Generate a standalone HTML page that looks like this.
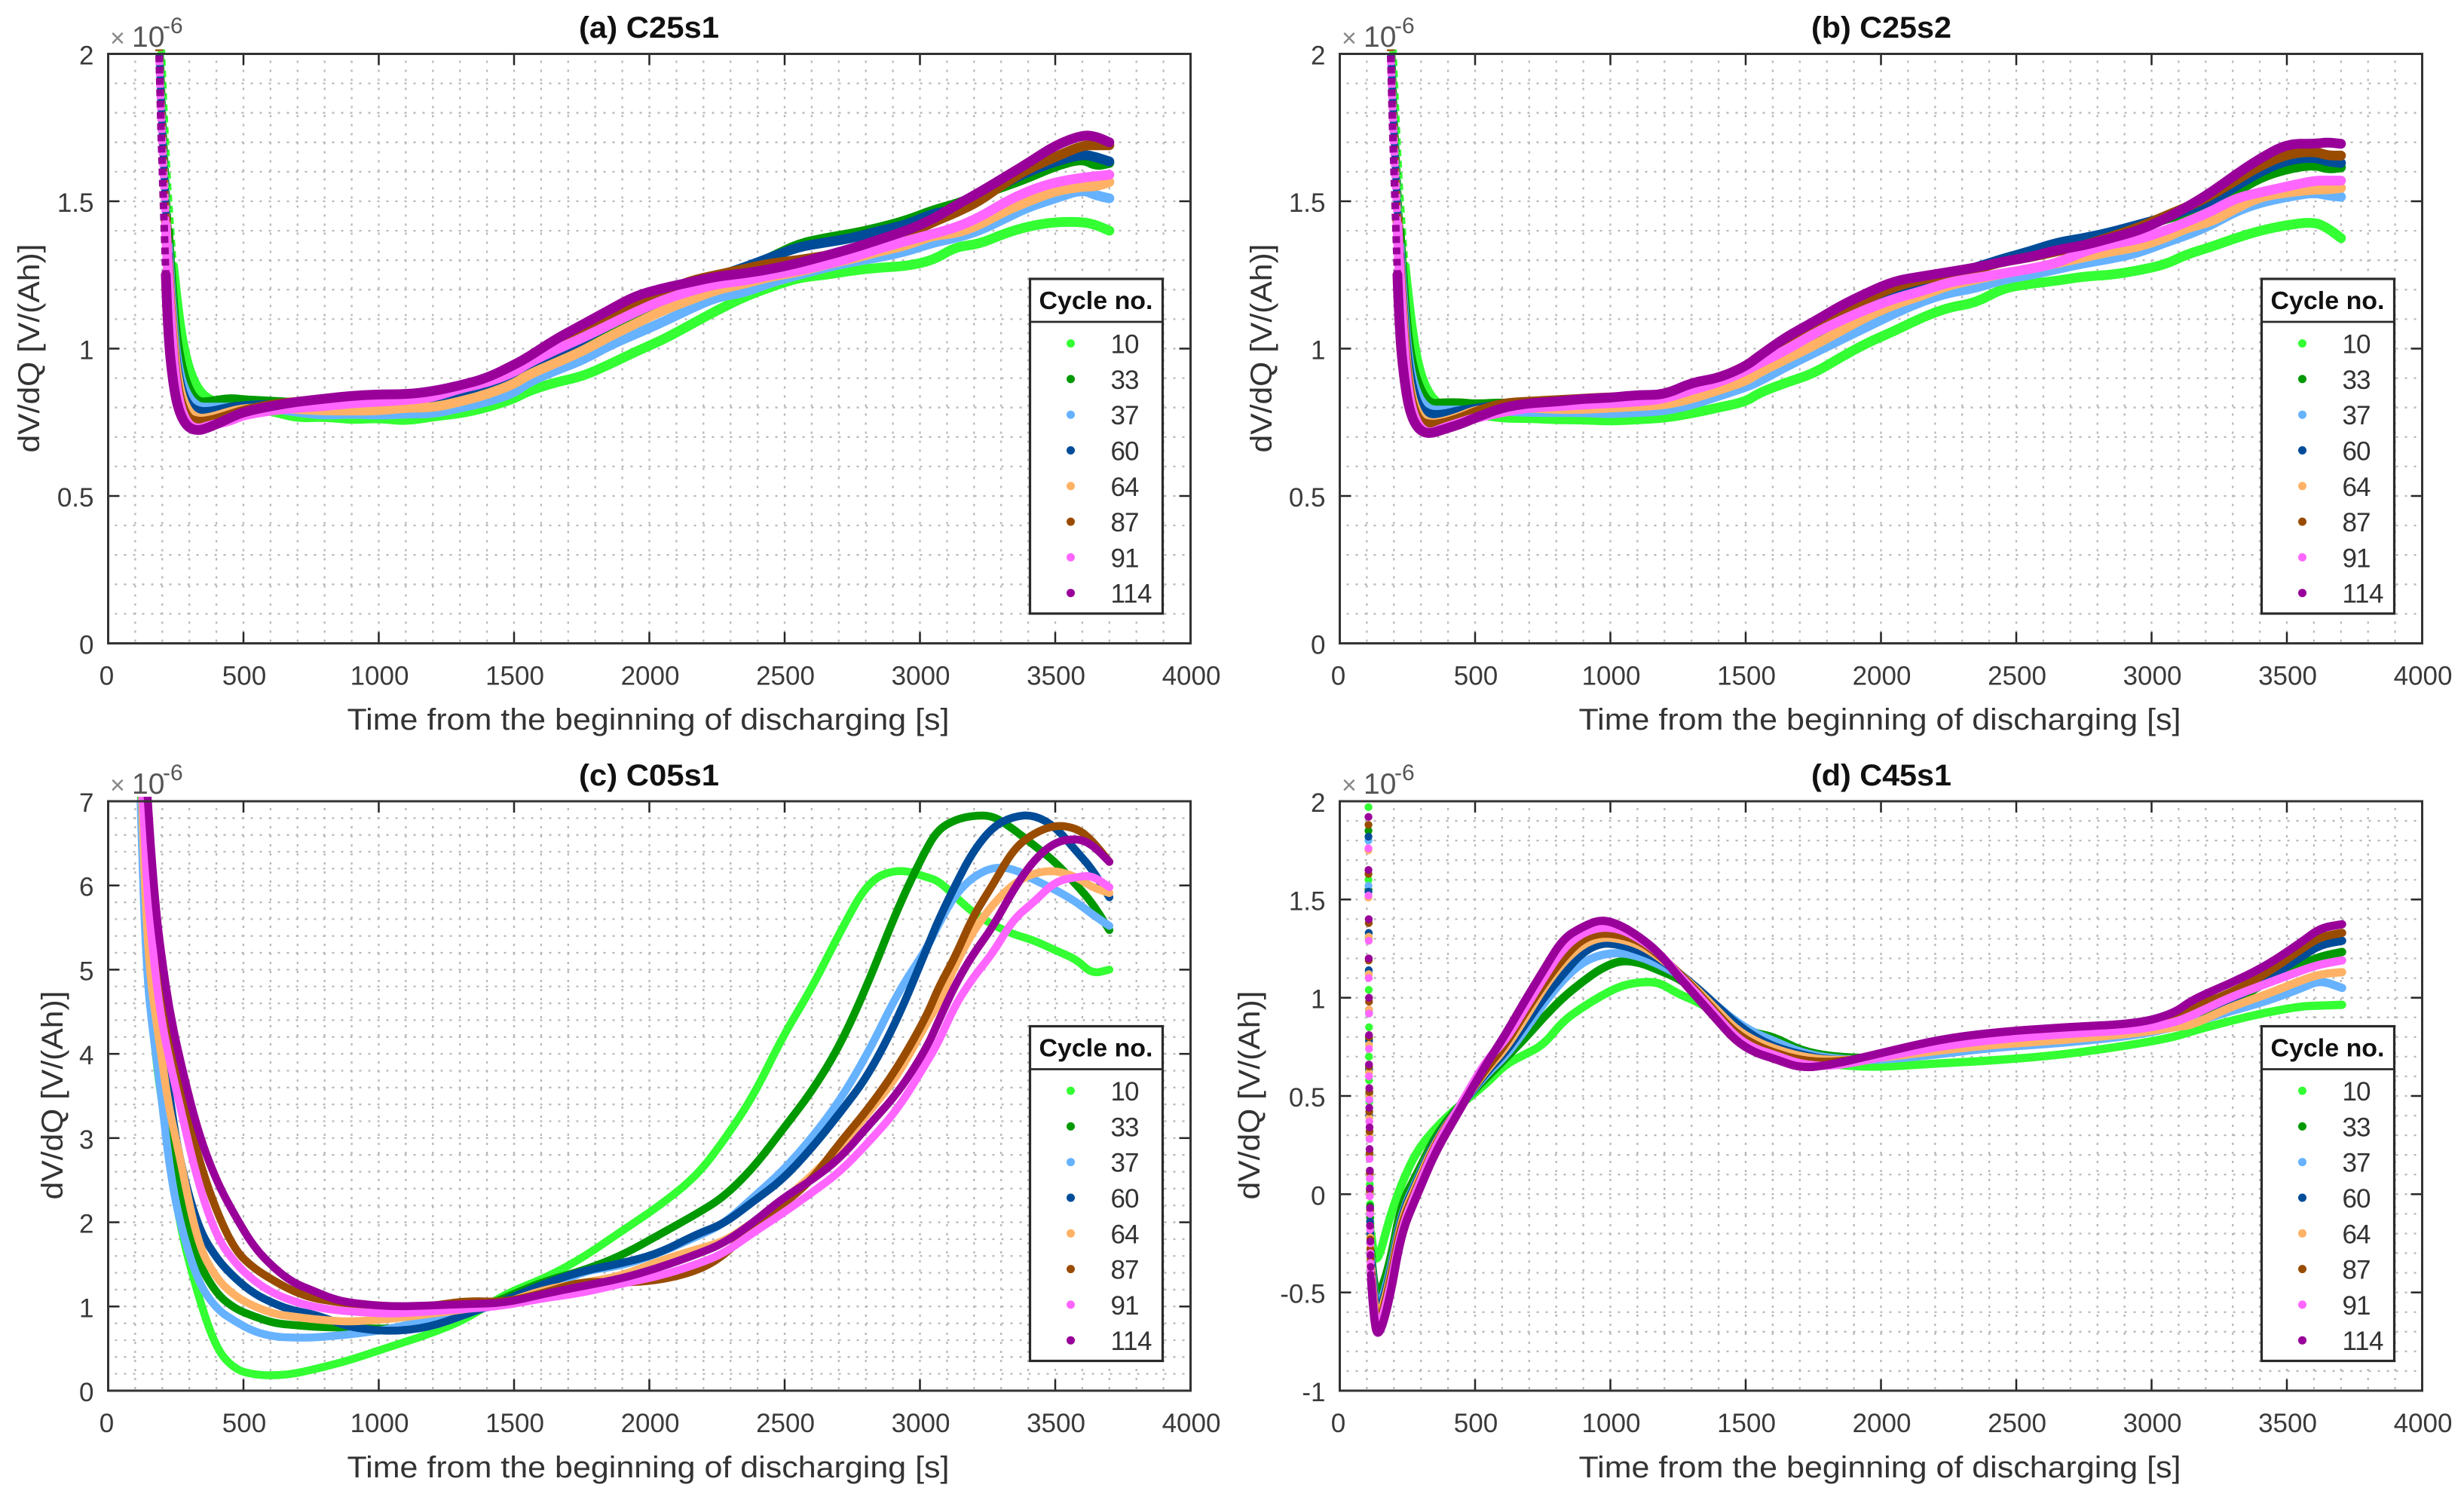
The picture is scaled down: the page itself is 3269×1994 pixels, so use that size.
<!DOCTYPE html>
<html lang="en">
<head>
<meta charset="utf-8">
<title>dV/dQ versus discharging time</title>
<style>
html,body{margin:0;padding:0;background:#fff;width:3269px;height:1994px;overflow:hidden}
svg{display:block}
text{font-family:"Liberation Sans",sans-serif}
.tick{font-size:35px;fill:#3a3a3a}
.ttl{font-size:40px;font-weight:bold;fill:#111;text-anchor:middle}
.lab{font-size:40px;fill:#333;text-anchor:middle}
.e1{font-size:34px;fill:#888}
.e2{font-size:39px;fill:#555}
.e3{font-size:30px;fill:#555}
</style>
</head>
<body>
<svg id="figure" xmlns="http://www.w3.org/2000/svg" width="3269" height="1994" viewBox="0 0 3269 1994">
  <rect x="0" y="0" width="3269" height="1994" fill="#fff"/>

  <g id="panel-a"></g>
  <g id="panel-b"></g>
  <g id="panel-c"></g>
  <g id="panel-d"></g>

  <text class="ttl" x="861" y="50" textLength="186" lengthAdjust="spacingAndGlyphs">(a) C25s1</text>
  <text class="ttl" x="2496" y="50" textLength="186" lengthAdjust="spacingAndGlyphs">(b) C25s2</text>
  <text class="ttl" x="861" y="1042" textLength="186" lengthAdjust="spacingAndGlyphs">(c) C05s1</text>
  <text class="ttl" x="2496" y="1042" textLength="186" lengthAdjust="spacingAndGlyphs">(d) C45s1</text>

  <text class="lab" x="860" y="968" textLength="799" lengthAdjust="spacingAndGlyphs">Time from the beginning of discharging [s]</text>
  <text class="lab" x="2494" y="968" textLength="799" lengthAdjust="spacingAndGlyphs">Time from the beginning of discharging [s]</text>
  <text class="lab" x="860" y="1960" textLength="799" lengthAdjust="spacingAndGlyphs">Time from the beginning of discharging [s]</text>
  <text class="lab" x="2494" y="1960" textLength="799" lengthAdjust="spacingAndGlyphs">Time from the beginning of discharging [s]</text>

  <text class="lab" transform="translate(52 462) rotate(-90)" textLength="277" lengthAdjust="spacingAndGlyphs">dV/dQ [V/(Ah)]</text>
  <text class="lab" transform="translate(1687 462) rotate(-90)" textLength="277" lengthAdjust="spacingAndGlyphs">dV/dQ [V/(Ah)]</text>
  <text class="lab" transform="translate(83 1453) rotate(-90)" textLength="277" lengthAdjust="spacingAndGlyphs">dV/dQ [V/(Ah)]</text>
  <text class="lab" transform="translate(1671 1453) rotate(-90)" textLength="277" lengthAdjust="spacingAndGlyphs">dV/dQ [V/(Ah)]</text>

  <g><text class="e1" x="146" y="62">×</text><text class="e2" x="175" y="62">10</text><text class="e3" x="216" y="44">-6</text></g>
  <g><text class="e1" x="1780" y="62">×</text><text class="e2" x="1809" y="62">10</text><text class="e3" x="1850" y="44">-6</text></g>
  <g><text class="e1" x="146" y="1053">×</text><text class="e2" x="175" y="1053">10</text><text class="e3" x="216" y="1035">-6</text></g>
  <g><text class="e1" x="1780" y="1053">×</text><text class="e2" x="1809" y="1053">10</text><text class="e3" x="1850" y="1035">-6</text></g>
</svg>

<script>
// ---------- shared categories ----------
const cycleLabels = ["10","33","37","60","64","87","91","114"];
const cycleColors = ["#33ff33","#009900","#66b2ff","#004c99","#ffb266","#994c00","#ff66ff","#990099"];
const xTickValues = [0,500,1000,1500,2000,2500,3000,3500,4000];
const yTicksAB = [0,0.5,1,1.5,2];
const yTickLabelsAB = ["0","0.5","1","1.5","2"];
const yTicksC = [0,1,2,3,4,5,6,7];
const yTickLabelsC = ["0","1","2","3","4","5","6","7"];
const yTicksD = [-1,-0.5,0,0.5,1,1.5,2];
const yTickLabelsD = ["-1","-0.5","0","0.5","1","1.5","2"];

// ---------- panels (a) and (b): time grid in seconds ----------
const timeAB = [188,195,204,213,221,240,260,290,330,380,450,500,600,700,800,900,1000,1100,1200,1300,1400,1500,1550,1650,1750,1850,1950,2050,2150,2250,2350,2450,2550,2650,2750,2850,2950,3050,3130,3220,3310,3400,3500,3600,3650,3700];

const a10 = [2.25,2.05,1.85,1.67,1.53,1.28,1.1,.95,.86,.82,.815,.80,.79,.765,.77,.76,.765,.755,.77,.78,.80,.83,.855,.885,.905,.945,.99,1.03,1.08,1.13,1.175,1.21,1.24,1.25,1.265,1.275,1.28,1.30,1.345,1.355,1.39,1.415,1.43,1.43,1.42,1.40];
const a33 = [2.1,1.92,1.72,1.55,1.40,1.13,.98,.87,.815,.82,.83,.825,.82,.815,.80,.795,.79,.80,.805,.83,.85,.875,.90,.95,1.0,1.06,1.11,1.155,1.2,1.24,1.27,1.31,1.355,1.375,1.39,1.41,1.435,1.47,1.49,1.52,1.55,1.58,1.62,1.645,1.62,1.63];
const a37 = [2.05,1.87,1.67,1.5,1.35,1.07,.92,.84,.80,.80,.80,.80,.80,.785,.775,.78,.775,.78,.78,.80,.82,.85,.885,.925,.96,1.01,1.05,1.09,1.135,1.175,1.19,1.225,1.25,1.275,1.295,1.31,1.33,1.36,1.375,1.40,1.44,1.48,1.51,1.54,1.52,1.51];
const a60 = [2.05,1.86,1.66,1.48,1.32,1.04,.89,.81,.785,.785,.80,.805,.81,.81,.81,.805,.80,.81,.825,.845,.865,.895,.925,.97,1.03,1.08,1.13,1.165,1.20,1.245,1.275,1.31,1.345,1.36,1.375,1.40,1.42,1.46,1.47,1.51,1.56,1.60,1.635,1.66,1.65,1.635];
const a64 = [2.03,1.84,1.64,1.46,1.30,1.02,.87,.79,.76,.765,.785,.795,.80,.795,.79,.79,.79,.80,.80,.82,.845,.88,.91,.95,.99,1.04,1.085,1.13,1.165,1.20,1.22,1.245,1.26,1.285,1.305,1.33,1.35,1.385,1.39,1.42,1.465,1.50,1.535,1.55,1.55,1.565];
const a87 = [2.02,1.82,1.62,1.44,1.27,.98,.84,.765,.75,.755,.775,.79,.81,.82,.825,.825,.83,.84,.85,.865,.895,.93,.96,1.02,1.065,1.11,1.15,1.19,1.23,1.25,1.27,1.29,1.30,1.315,1.33,1.355,1.385,1.43,1.46,1.50,1.56,1.61,1.65,1.69,1.69,1.69];
const a91 = [2.0,1.80,1.60,1.42,1.25,.96,.82,.745,.725,.74,.755,.775,.79,.80,.805,.815,.82,.825,.835,.865,.885,.92,.95,.995,1.035,1.08,1.125,1.165,1.195,1.22,1.23,1.25,1.265,1.285,1.31,1.34,1.365,1.39,1.41,1.445,1.495,1.535,1.565,1.58,1.585,1.59];
const a114 = [2.0,1.75,1.5,1.25,1.05,.88,.79,.735,.72,.735,.765,.785,.805,.82,.83,.84,.845,.845,.855,.875,.90,.945,.97,1.03,1.08,1.13,1.18,1.205,1.225,1.245,1.255,1.27,1.29,1.315,1.34,1.37,1.40,1.44,1.485,1.53,1.58,1.63,1.69,1.725,1.72,1.70];

const b10 = [2.25,2.05,1.85,1.67,1.53,1.28,1.1,.93,.84,.80,.79,.78,.765,.765,.76,.76,.755,.76,.765,.78,.80,.82,.85,.885,.915,.97,1.02,1.06,1.105,1.14,1.155,1.205,1.22,1.23,1.245,1.25,1.265,1.285,1.32,1.345,1.375,1.40,1.42,1.43,1.41,1.375];
const b33 = [2.1,1.92,1.72,1.55,1.4,1.13,.97,.87,.81,.815,.815,.81,.815,.81,.81,.81,.80,.805,.81,.825,.85,.875,.90,.96,1.02,1.07,1.12,1.17,1.215,1.24,1.27,1.295,1.33,1.35,1.36,1.385,1.41,1.44,1.46,1.49,1.53,1.58,1.61,1.625,1.61,1.615];
const b37 = [2.05,1.87,1.67,1.5,1.35,1.07,.92,.83,.79,.79,.79,.79,.79,.785,.785,.785,.78,.785,.79,.81,.84,.87,.89,.94,.985,1.03,1.075,1.12,1.16,1.19,1.205,1.235,1.25,1.27,1.29,1.305,1.325,1.36,1.385,1.42,1.465,1.495,1.515,1.53,1.52,1.515];
const b60 = [2.05,1.86,1.66,1.48,1.32,1.04,.89,.80,.775,.775,.79,.795,.81,.81,.81,.815,.82,.825,.84,.86,.885,.92,.95,.995,1.05,1.10,1.15,1.19,1.23,1.25,1.275,1.305,1.33,1.36,1.375,1.395,1.42,1.445,1.47,1.50,1.55,1.60,1.64,1.65,1.635,1.63];
const b64 = [2.03,1.84,1.64,1.46,1.3,1.0,.85,.77,.745,.75,.77,.79,.80,.80,.795,.795,.80,.805,.81,.83,.86,.89,.92,.965,1.01,1.06,1.11,1.15,1.18,1.215,1.235,1.255,1.27,1.29,1.31,1.33,1.345,1.375,1.41,1.43,1.475,1.515,1.53,1.54,1.54,1.545];
const b87 = [2.02,1.82,1.62,1.44,1.27,.98,.83,.755,.74,.745,.765,.785,.815,.82,.825,.83,.835,.835,.845,.88,.90,.94,.975,1.03,1.08,1.125,1.17,1.21,1.235,1.25,1.27,1.295,1.31,1.33,1.35,1.38,1.41,1.45,1.48,1.52,1.57,1.62,1.66,1.67,1.655,1.655];
const b91 = [2.0,1.8,1.6,1.42,1.25,.95,.81,.735,.71,.73,.75,.765,.785,.80,.805,.81,.815,.82,.83,.86,.885,.925,.95,.995,1.05,1.095,1.135,1.17,1.195,1.225,1.24,1.255,1.27,1.29,1.33,1.355,1.37,1.40,1.43,1.465,1.51,1.53,1.55,1.57,1.57,1.57];
const b114 = [2.0,1.75,1.5,1.25,1.05,.88,.78,.725,.71,.725,.745,.765,.80,.815,.82,.83,.833,.843,.843,.885,.90,.94,.975,1.04,1.09,1.145,1.19,1.23,1.245,1.26,1.275,1.295,1.31,1.335,1.35,1.375,1.40,1.44,1.48,1.53,1.59,1.645,1.695,1.695,1.70,1.695];

// ---------- panel (c) ----------
const timeC = [120,130,145,160,180,200,225,260,330,400,470,540,615,685,755,830,900,1040,1185,1325,1465,1610,1750,1895,2035,2175,2275,2385,2490,2600,2705,2810,2920,3025,3070,3130,3195,3270,3345,3420,3500,3580,3635,3700];

const c10 = [7.2,6.1,5.1,4.5,3.85,3.4,2.9,2.02,1.15,.49,.25,.19,.18,.2,.25,.31,.37,.52,.67,.85,1.15,1.33,1.57,1.89,2.19,2.55,2.97,3.5,4.19,4.78,5.45,6.06,6.2,6.1,6.05,5.87,5.68,5.53,5.42,5.35,5.23,5.12,4.95,5.0];
const c33 = [7.4,6.3,5.3,4.8,4.2,3.7,3.05,2.32,1.54,1.15,.97,.88,.80,.78,.76,.75,.75,.73,.80,.92,1.10,1.30,1.42,1.6,1.85,2.1,2.3,2.65,3.09,3.55,4.1,4.85,5.75,6.45,6.67,6.78,6.83,6.83,6.67,6.48,6.28,6.0,5.8,5.47];
const c37 = [7,5.9,4.9,4.4,3.9,3.4,2.7,2.05,1.3,.97,.82,.70,.64,.63,.63,.65,.67,.73,.85,.94,1.03,1.18,1.42,1.48,1.63,1.83,1.98,2.3,2.6,3.0,3.45,4.02,4.74,5.25,5.55,5.89,6.1,6.22,6.2,6.07,5.95,5.8,5.66,5.52];
const c60 = [7.6,6.5,5.6,5.0,4.5,4.05,3.55,2.79,1.95,1.57,1.33,1.15,1.03,.95,.91,.83,.75,.70,.75,.91,1.07,1.27,1.42,1.51,1.63,1.86,1.98,2.25,2.5,2.88,3.3,3.75,4.43,5.25,5.6,6.0,6.4,6.7,6.82,6.84,6.7,6.4,6.2,5.86];
const c64 = [7.7,6.4,5.4,4.8,4.35,3.9,3.35,2.85,1.75,1.33,1.12,1.0,.91,.88,.85,.83,.82,.85,.91,.97,1.04,1.2,1.28,1.36,1.54,1.68,1.77,2.0,2.25,2.55,2.9,3.3,3.75,4.37,4.6,5.05,5.45,5.78,6.02,6.15,6.18,6.1,5.98,5.91];
const c87 = [8,7.4,6.7,6.2,5.45,4.85,4.35,3.7,2.79,2.13,1.66,1.45,1.30,1.18,1.10,1.06,1.03,1.0,1.0,1.07,1.05,1.16,1.30,1.28,1.31,1.42,1.6,1.95,2.2,2.5,2.95,3.35,3.85,4.45,4.8,5.15,5.63,6.01,6.43,6.62,6.72,6.68,6.54,6.28];
const c91 = [7.6,6.95,5.9,5.4,4.8,4.35,3.95,3.45,2.49,1.83,1.51,1.30,1.15,1.06,1.0,.96,.94,.91,.94,.97,1.01,1.10,1.16,1.27,1.36,1.5,1.63,1.88,2.1,2.35,2.6,2.95,3.35,3.9,4.15,4.58,4.9,5.2,5.6,5.8,6.05,6.1,6.12,5.98];
const c114 = [8.3,7.8,7.1,6.35,5.6,5.1,4.55,4.0,3.09,2.49,2.07,1.70,1.45,1.28,1.19,1.09,1.04,1.0,1.01,1.03,1.04,1.15,1.24,1.33,1.46,1.62,1.75,2.0,2.28,2.5,2.76,3.15,3.54,4.07,4.4,4.82,5.18,5.51,5.95,6.3,6.52,6.56,6.49,6.28];

// ---------- panel (d): initial sparse samples, then the curve ----------
const dropTimeD = [106,106,107,107,108,108,108,109,109,110,110,111,111,112,112,113,113,114,114,115];

const dDrop10 = [1.97,1.6,1.3,1.04,.85,.70,.58,.47,.37,.28,.2,.12,.05,0,-.05,-.09,-.12,-.15,-.17,-.19];
const dDrop33 = [1.85,1.55,1.31,1.12,.92,.79,.63,.51,.4,.3,.2,.1,.02,-.06,-.12,-.17,-.21,-.25,-.27,-.29];
const dDrop37 = [1.80,1.57,1.33,1.13,.93,.76,.62,.49,.39,.29,.19,.09,0,-.08,-.14,-.19,-.24,-.27,-.3,-.32];
const dDrop60 = [1.82,1.54,1.33,1.14,.94,.78,.64,.52,.4,.3,.2,.1,.01,-.07,-.14,-.2,-.25,-.29,-.32,-.34];
const dDrop64 = [1.75,1.51,1.31,1.12,.94,.76,.62,.5,.39,.3,.2,.1,0,-.09,-.16,-.22,-.27,-.31,-.34,-.37];
const dDrop87 = [1.88,1.63,1.38,1.19,.98,.80,.65,.52,.42,.32,.21,.11,.02,-.08,-.16,-.23,-.28,-.33,-.36,-.39];
const dDrop91 = [1.76,1.52,1.29,1.10,.92,.74,.60,.48,.37,.28,.18,.08,-.01,-.1,-.18,-.25,-.3,-.35,-.39,-.41];
const dDrop114 = [1.92,1.65,1.40,1.2,1.0,.81,.66,.54,.44,.34,.23,.12,.03,-.07,-.16,-.24,-.31,-.37,-.41,-.43];

const timeD = [116,125,142,184,227,284,355,440,540,611,682,753,824,895,966,1037,1108,1179,1250,1321,1392,1463,1534,1605,1705,1819,1976,2205,2408,2678,2948,3083,3150,3286,3421,3556,3623,3704];

const d10 = [-.2,-.31,-.34,-.12,.05,.22,.34,.45,.56,.66,.71,.76,.88,.95,1.01,1.06,1.08,1.08,1.02,.98,.92,.82,.76,.72,.68,.66,.645,.665,.68,.71,.765,.80,.83,.88,.925,.957,.96,.964];
const d33 = [-.3,-.45,-.53,-.36,-.05,.1,.3,.45,.59,.69,.79,.90,1.0,1.08,1.15,1.19,1.18,1.14,1.10,1.03,.95,.86,.82,.80,.73,.70,.69,.74,.79,.82,.84,.88,.91,.96,1.08,1.17,1.21,1.233];
const d37 = [-.33,-.5,-.6,-.41,-.1,.07,.28,.44,.61,.70,.83,.97,1.09,1.18,1.22,1.23,1.21,1.17,1.12,1.05,.96,.88,.82,.78,.72,.69,.68,.71,.746,.77,.81,.85,.87,.93,.98,1.05,1.09,1.05];
const d60 = [-.35,-.52,-.62,-.43,-.11,.06,.28,.44,.62,.72,.86,1.0,1.12,1.23,1.28,1.27,1.24,1.2,1.13,1.05,.96,.87,.80,.75,.71,.68,.69,.76,.80,.83,.85,.90,.93,.98,1.09,1.21,1.27,1.29];
const d64 = [-.38,-.55,-.65,-.45,-.13,.05,.27,.44,.63,.74,.89,1.05,1.18,1.27,1.31,1.30,1.27,1.21,1.13,1.04,.94,.84,.78,.74,.70,.68,.69,.73,.76,.785,.82,.85,.86,.95,1.015,1.09,1.12,1.13];
const d87 = [-.4,-.58,-.68,-.47,-.15,.03,.26,.44,.64,.76,.92,1.07,1.2,1.3,1.33,1.32,1.29,1.22,1.13,1.03,.92,.82,.76,.72,.68,.67,.70,.77,.81,.84,.86,.91,.95,1.02,1.12,1.25,1.31,1.33];
const d91 = [-.42,-.6,-.7,-.5,-.18,.02,.25,.44,.68,.78,.94,1.10,1.25,1.33,1.36,1.35,1.30,1.23,1.12,1.02,.91,.80,.74,.71,.66,.65,.69,.75,.785,.816,.836,.874,.91,1.0,1.07,1.14,1.17,1.19];
const d114 = [-.44,-.63,-.74,-.54,-.2,-.01,.22,.42,.66,.81,.98,1.14,1.30,1.36,1.40,1.37,1.31,1.23,1.11,1.0,.89,.78,.72,.69,.64,.66,.71,.785,.823,.85,.868,.92,.99,1.07,1.16,1.285,1.355,1.374];

// ---------- drawing ----------
const NS = "http://www.w3.org/2000/svg";
const BOX_W = 1436, BOX_H = 782;
const LEGEND_OFFSET = 1223;

const panelDefs = [
  { key:"a", left:143.5, top:71.5, ymin:0, ymax:2, ticks:yTicksAB, labels:yTickLabelsAB, minor:0.1, time:timeAB, width:13,
    series:[a10,a33,a37,a60,a64,a87,a91,a114], dashAbove:1.45, drops:null },
  { key:"b", left:1777.5, top:71.5, ymin:0, ymax:2, ticks:yTicksAB, labels:yTickLabelsAB, minor:0.1, time:timeAB, width:13,
    series:[b10,b33,b37,b60,b64,b87,b91,b114], dashAbove:1.45, drops:null },
  { key:"c", left:143.5, top:1063, ymin:0, ymax:7, ticks:yTicksC, labels:yTickLabelsC, minor:0.2, time:timeC, width:10.5,
    series:[c10,c33,c37,c60,c64,c87,c91,c114], dashAbove:null, drops:null },
  { key:"d", left:1777.5, top:1063, ymin:-1, ymax:2, ticks:yTicksD, labels:yTickLabelsD, minor:0.1, time:timeD, width:11,
    series:[d10,d33,d37,d60,d64,d87,d91,d114], dashAbove:null,
    drops:[dDrop10,dDrop33,dDrop37,dDrop60,dDrop64,dDrop87,dDrop91,dDrop114] }
];

function make(tag, attrs, parent){
  const n = document.createElementNS(NS, tag);
  for (const k in attrs) n.setAttribute(k, attrs[k]);
  parent.appendChild(n);
  return n;
}

function smoothPath(pts){
  let d = "M" + pts[0][0] + " " + pts[0][1];
  for (let i = 1; i < pts.length - 1; i++){
    const mx = (pts[i][0] + pts[i + 1][0]) / 2, my = (pts[i][1] + pts[i + 1][1]) / 2;
    d += " Q" + pts[i][0] + " " + pts[i][1] + " " + mx + " " + my;
  }
  const last = pts[pts.length - 1];
  d += " L" + last[0] + " " + last[1];
  return d;
}

function drawPanel(p){
  const root = document.getElementById("panel-" + p.key);
  const xOf = t => p.left + (t / 4000) * BOX_W;
  const yOf = v => p.top + BOX_H - ((v - p.ymin) / (p.ymax - p.ymin)) * BOX_H;
  const right = p.left + BOX_W, bottom = p.top + BOX_H;

  // clip
  const defs = make("defs", {}, root);
  const clip = make("clipPath", {id:"clip-" + p.key}, defs);
  make("rect", {x:p.left, y:p.top - 6, width:BOX_W, height:BOX_H + 6}, clip);

  // grid
  const grid = make("g", {stroke:"#b8b8b8","stroke-width":2.3,"stroke-dasharray":"3 9",fill:"none"}, root);
  
  
  for (let t = 100; t < 4000; t += 100){
    const g = make("line", {x1:xOf(t), x2:xOf(t), y1:p.top + 9, y2:bottom}, grid);
    
    
  }
  const steps = Math.round((p.ymax - p.ymin) / p.minor);
  for (let i = 1; i < steps; i++){
    const v = p.ymin + i * p.minor;
    const g = make("line", {x1:p.left + 9, x2:right, y1:yOf(v), y2:yOf(v)}, grid);
    
    
  }

  // series
  const curves = make("g", {"clip-path":"url(#clip-" + p.key + ")", fill:"none"}, root);
  
  
  p.series.forEach((vals, s) => {
    const color = cycleColors[s];
    const pts = vals.map((v, i) => [xOf(p.time[i]), yOf(v)]);
    let splitAt = 0;
    if (p.dashAbove !== null){
      while (splitAt < vals.length - 1 && vals[splitAt] > p.dashAbove) splitAt++;
      const dash = make("polyline", {
        points: pts.slice(0, splitAt + 1).map(q => q.join(",")).join(" "),
        stroke: color, "stroke-width": 10, "stroke-dasharray": "9 6", "stroke-dashoffset": s * 4
      }, curves);
      
      
    }
    const line = make("path", {
      d: smoothPath(pts.slice(splitAt)),
      stroke: color, "stroke-width": p.width, "stroke-linejoin": "round", "stroke-linecap": "round"
    }, curves);
    
    
  });
  if (p.drops){
    p.drops.forEach((vals, s) => {
      vals.forEach((v, i) => {
        const dot = make("circle", {cx:xOf(dropTimeD[i]), cy:yOf(v), r:5.2, fill:cycleColors[s]}, curves);
        
        
      });
    });
  }

  // ticks and labels
  const axes = make("g", {stroke:"#262626","stroke-width":2.5,fill:"none"}, root);
  
  
  xTickValues.forEach(t => {
    if (t > 0 && t < 4000){
      const a = make("line", {x1:xOf(t), x2:xOf(t), y1:bottom, y2:bottom - 15}, axes);
      
      
      const b = make("line", {x1:xOf(t), x2:xOf(t), y1:p.top, y2:p.top + 15}, axes);
      
      
    }
    const lab = make("text", {class:"tick", x:xOf(t) - (t === 0 ? 2 : -1), y:bottom + 55, "text-anchor":"middle"}, root);
    
    
    lab.textContent = String(t);
  });
  p.ticks.forEach((v, i) => {
    if (v > p.ymin && v < p.ymax){
      const a = make("line", {x1:p.left, x2:p.left + 15, y1:yOf(v), y2:yOf(v)}, axes);
      
      
      const b = make("line", {x1:right, x2:right - 15, y1:yOf(v), y2:yOf(v)}, axes);
      
      
    }
    const lab = make("text", {class:"tick", x:p.left - 19, y:yOf(v) + 14, "text-anchor":"end"}, root);
    
    
    lab.textContent = p.labels[i];
  });
  const box = make("rect", {x:p.left, y:p.top, width:BOX_W, height:BOX_H, stroke:"#333","stroke-width":3}, axes);
  
  

  // legend
  const lx = p.left + LEGEND_OFFSET, ly = p.top + 298.5, lw = 176, lh = 444;
  const legend = make("g", {}, root);
  
  
  const lbox = make("rect", {x:lx, y:ly, width:lw, height:lh, fill:"#fff", stroke:"#2a2a2a", "stroke-width":3.2}, legend);
  
  
  const sep = make("line", {x1:lx, x2:lx + lw, y1:ly + 57, y2:ly + 57, stroke:"#2a2a2a", "stroke-width":2.8}, legend);
  
  
  const head = make("text", {x:lx + 12, y:ly + 40, "font-size":33, "font-weight":"bold", fill:"#111", textLength:151, lengthAdjust:"spacingAndGlyphs"}, legend);
  
  
  head.textContent = "Cycle no.";
  cycleLabels.forEach((c, i) => {
    const cy = ly + 85.6 + i * 47.3;
    const m = make("circle", {cx:lx + 54, cy:cy, r:5.5, fill:cycleColors[i]}, legend);
    
    
    const t = make("text", {x:lx + 107, y:cy + 13, "font-size":35, fill:"#333", textLength:c.length === 3 ? 55 : 38, lengthAdjust:"spacing"}, legend);
    
    
    t.textContent = c;
  });
}

panelDefs.forEach(drawPanel);
</script>
</body>
</html>
